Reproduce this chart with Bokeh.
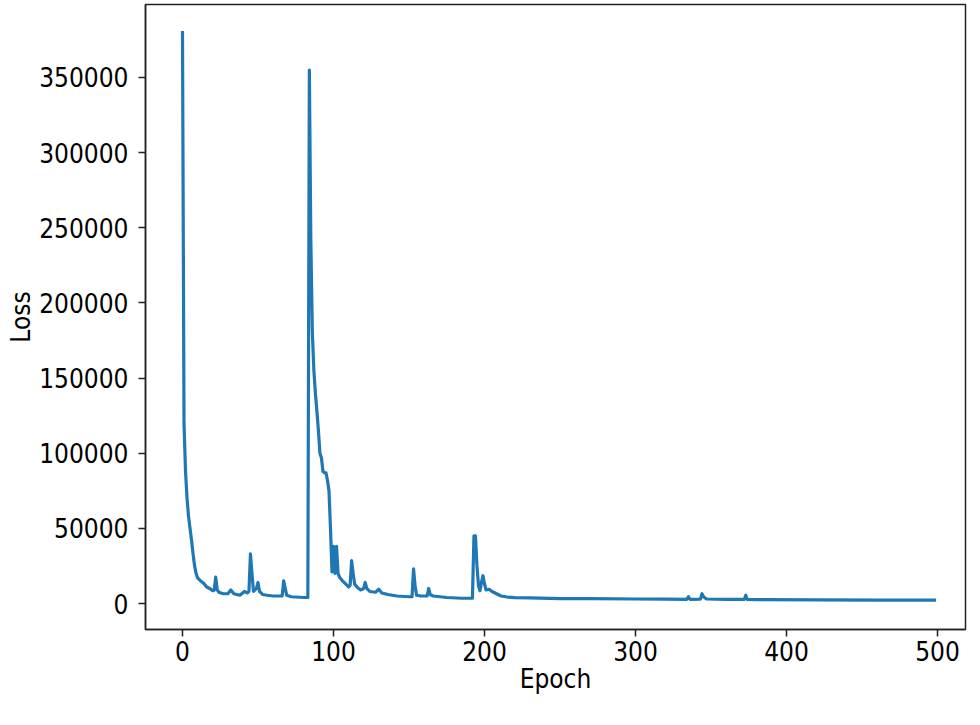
from bokeh.plotting import figure
from bokeh.models import FixedTicker
from bokeh.embed import file_html
from bokeh.resources import INLINE

# ---- data ----
epochs = [0, 1, 2, 3, 4, 5, 6, 7, 8, 9, 10, 12, 14, 16, 18, 20, 21, 22, 23, 24,
          27, 30, 32, 34, 38, 41, 43, 44, 45, 46, 47, 49, 50, 51, 53, 56, 60, 66,
          67, 69, 72, 80, 83, 84, 85, 86, 87, 88, 89, 90, 91, 92, 93, 94, 95, 96,
          97, 98, 99, 100, 101, 102, 103, 104, 106, 108, 110, 111, 112, 113, 114,
          116, 118, 120, 121, 122, 124, 128, 130, 132, 136, 142, 150, 152, 153,
          154, 155, 158, 162, 163, 164, 166, 175, 185, 190, 192, 193, 194, 195,
          196, 197, 198, 199, 200, 201, 203, 205, 208, 211, 215, 220, 230, 250,
          270, 300, 320, 334, 335, 336, 343, 344, 345, 347, 360, 372, 373, 374,
          380, 420, 460, 499]
loss = [381000, 120000, 88000, 70000, 58000, 50000, 42000, 33000, 25000, 20000,
        17000, 15000, 13500, 11000, 10000, 8500, 9000, 17500, 9000, 7500,
        6500, 6500, 9000, 6500, 5500, 8000, 7000, 8000, 33000, 20000, 8000,
        10000, 14000, 8000, 6000, 5500, 5000, 5000,
        15000, 5500, 4500, 4000, 4000, 355000, 240000, 180000, 155000, 140000,
        128000, 115000, 100000, 97000, 88000, 87000, 87000, 82000,
        75000, 50000, 21000, 38000, 20000, 38000, 20000, 17500, 15000, 13000,
        11000, 12000, 28500, 20000, 13000,
        10500, 9000, 10000, 14000, 10000, 8000, 7500, 9500, 7000, 6000, 5000,
        4500, 4500, 23000,
        12000, 5500, 5000, 5000, 10000, 6000, 5000, 4000, 3500, 3500, 3500,
        45000, 45000, 25000,
        12000, 8500, 14000, 18500, 13000, 9000, 9500, 8000, 6500, 5000, 4300,
        3900, 3700, 3300,
        3200, 3000, 2900, 2800, 4500, 2800, 2900, 6500, 4500, 3000, 2800, 2700,
        5500, 2700,
        2600, 2400, 2300, 2200]

x_ticks = [0, 100, 200, 300, 400, 500]
x_tick_labels = ["0", "100", "200", "300", "400", "500"]
y_ticks = [0, 50000, 100000, 150000, 200000, 250000, 300000, 350000]
y_tick_labels = ["0", "50000", "100000", "150000", "200000", "250000",
                 "300000", "350000"]
x_label = "Epoch"
y_label = "Loss"

FONT = "DejaVu Sans Condensed, DejaVu Sans"
FS = "26px"

p = figure(width=970, height=716,
           x_range=(-24.5, 518.5), y_range=(-17300, 398570),
           output_backend="svg", toolbar_location=None,
           min_border_left=145, min_border_right=5,
           min_border_top=4, min_border_bottom=87)

p.line(epochs, loss, line_color="#1f77b4", line_width=3.2, line_join="round")

p.xgrid.visible = False
p.ygrid.visible = False
p.outline_line_color = "#222222"
p.outline_line_width = 1.5
p.background_fill_color = "white"
p.border_fill_color = "white"

for ax in (p.xaxis[0], p.yaxis[0]):
    ax.axis_line_color = "#222222"
    ax.axis_line_width = 1.5
    ax.major_tick_in = 0
    ax.major_tick_out = 7
    ax.major_tick_line_width = 1.5
    ax.major_tick_line_color = "#222222"
    ax.minor_tick_line_color = None
    ax.major_label_text_font = FONT
    ax.major_label_text_font_size = FS
    ax.major_label_text_color = "black"
    ax.axis_label_text_font = FONT
    ax.axis_label_text_font_size = FS
    ax.axis_label_text_font_style = "normal"
    ax.axis_label_text_color = "black"

p.xaxis[0].ticker = FixedTicker(ticks=x_ticks)
p.xaxis[0].major_label_overrides = {t: l for t, l in zip(x_ticks, x_tick_labels)}
p.yaxis[0].ticker = FixedTicker(ticks=y_ticks)
p.yaxis[0].major_label_overrides = {t: l for t, l in zip(y_ticks, y_tick_labels)}
p.xaxis[0].axis_label = x_label
p.yaxis[0].axis_label = y_label
p.xaxis[0].major_label_standoff = 4
p.xaxis[0].axis_label_standoff = 0
p.yaxis[0].major_label_standoff = 10
p.yaxis[0].axis_label_standoff = 0

open("out.html", "w").write(file_html(p, INLINE))
